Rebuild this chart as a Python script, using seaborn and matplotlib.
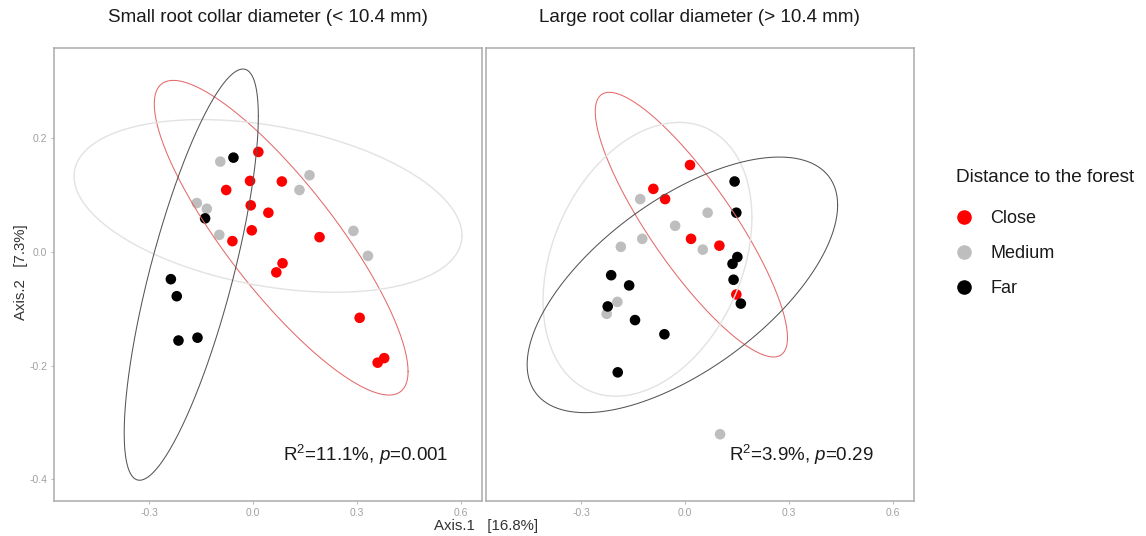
import numpy as np
import pandas as pd
import matplotlib
matplotlib.use("Agg")
import matplotlib.pyplot as plt
import seaborn as sns
from matplotlib.lines import Line2D

# ---------------- data ----------------
groups = ["Close", "Medium", "Far"]
point_colors = ["#FF0000", "#BEBEBE", "#000000"]
ellipse_colors = ["#E46A6A", "#E2E2E2", "#555555"]

panel_titles = ["Small root collar diameter (< 10.4 mm)",
                "Large root collar diameter (> 10.4 mm)"]
stat_labels = [r"R$^{2}$=11.1%, $\mathit{p}$=0.001", r"R$^{2}$=3.9%, $\mathit{p}$=0.29"]

x_ticks = [-0.3, 0.0, 0.3, 0.6]
y_ticks = [-0.4, -0.2, 0.0, 0.2]
x_label = "Axis.1   [16.8%]"
y_label = "Axis.2   [7.3%]"
legend_title = "Distance to the forest"

# Small root collar panel
small_close_x = [0.015, -0.009, 0.083, -0.078, -0.007, 0.044, -0.004, -0.060, 0.192, 0.085, 0.067, 0.308, 0.379, 0.360]
small_close_y = [0.176, 0.125, 0.124, 0.109, 0.082, 0.069, 0.038, 0.019, 0.026, -0.020, -0.036, -0.116, -0.187, -0.195]
small_medium_x = [-0.095, 0.163, 0.134, -0.163, -0.134, -0.098, 0.290, 0.332]
small_medium_y = [0.159, 0.135, 0.109, 0.086, 0.076, 0.030, 0.037, -0.007]
small_far_x = [-0.057, -0.139, -0.238, -0.221, -0.216, -0.161]
small_far_y = [0.166, 0.059, -0.048, -0.078, -0.156, -0.151]

# Large root collar panel
large_close_x = [0.014, -0.092, -0.058, 0.017, 0.099, 0.148]
large_close_y = [0.153, 0.111, 0.093, 0.023, 0.011, -0.075]
large_medium_x = [-0.130, 0.065, -0.029, -0.124, -0.186, 0.051, -0.196, -0.227, 0.101]
large_medium_y = [0.093, 0.069, 0.046, 0.023, 0.009, 0.004, -0.088, -0.109, -0.321]
large_far_x = [0.143, 0.148, 0.151, 0.137, 0.140, 0.161, -0.214, -0.162, -0.224, -0.145, -0.060, -0.195]
large_far_y = [0.124, 0.069, -0.009, -0.021, -0.049, -0.091, -0.041, -0.059, -0.096, -0.120, -0.145, -0.212]

# Ellipse parameters (order: Close, Medium, Far): centre, half-extent x/y, correlation
small_ell_cx = [0.081, 0.043, -0.179]
small_ell_cy = [0.025, 0.081, -0.040]
small_ell_hx = [0.367, 0.561, 0.194]
small_ell_hy = [0.277, 0.152, 0.362]
small_ell_r = [-0.85, -0.343, 0.77]

large_ell_cx = [0.018, -0.109, -0.008]
large_ell_cy = [0.048, -0.013, -0.058]
large_ell_hx = [0.278, 0.302, 0.449]
large_ell_hy = [0.233, 0.241, 0.225]
large_ell_r = [-0.854, 0.304, 0.624]


def make_df(cx, cy, mx, my, fx, fy):
    # row order: Medium, Close, Far (drawing order)
    return pd.DataFrame({
        "Axis.1": list(mx) + list(cx) + list(fx),
        "Axis.2": list(my) + list(cy) + list(fy),
        "Distance": ["Medium"] * len(mx) + ["Close"] * len(cx) + ["Far"] * len(fx),
    })


df_small = make_df(small_close_x, small_close_y, small_medium_x, small_medium_y, small_far_x, small_far_y)
df_large = make_df(large_close_x, large_close_y, large_medium_x, large_medium_y, large_far_x, large_far_y)

# ---------------- style ----------------
sns.set_theme(style="white")
plt.rcParams["font.family"] = ["Liberation Sans", "DejaVu Sans"]
plt.rcParams["axes.unicode_minus"] = False
plt.rcParams["mathtext.fontset"] = "custom"
plt.rcParams["mathtext.rm"] = "Liberation Sans"
plt.rcParams["mathtext.it"] = "Liberation Sans:italic"
plt.rcParams["mathtext.default"] = "regular"

W, H = 1146, 536
fig = plt.figure(figsize=(W / 100, H / 100), dpi=100)
ax1 = fig.add_axes([54 / W, 1 - 500.7 / H, 427.7 / W, 452.7 / H])
ax2 = fig.add_axes([486 / W, 1 - 500.7 / H, 427.7 / W, 452.7 / H])

palette = dict(zip(groups, point_colors))
xlim = (-0.576, 0.661)
ylim = (-0.438, 0.359)

panels = [
    (ax1, df_small, (small_ell_cx, small_ell_cy, small_ell_hx, small_ell_hy, small_ell_r)),
    (ax2, df_large, (large_ell_cx, large_ell_cy, large_ell_hx, large_ell_hy, large_ell_r)),
]

t = np.linspace(0, 2 * np.pi, 300)
for i, (ax, df, ell) in enumerate(panels):
    sns.scatterplot(data=df, x="Axis.1", y="Axis.2", hue="Distance", hue_order=groups,
                    palette=palette, s=58, linewidth=0, legend=False, ax=ax, zorder=2)
    cxs, cys, hxs, hys, rs = ell
    for g in range(3):
        cov = np.array([[hxs[g] ** 2, rs[g] * hxs[g] * hys[g]],
                        [rs[g] * hxs[g] * hys[g], hys[g] ** 2]])
        L = np.linalg.cholesky(cov)
        pts = L @ np.vstack([np.cos(t), np.sin(t)])
        ax.plot(cxs[g] + pts[0], cys[g] + pts[1], color=ellipse_colors[g],
                lw=[0.75, 1.0, 0.75][g], zorder=3)
    ax.set_xlim(*xlim)
    ax.set_ylim(*ylim)
    ax.set_xticks(x_ticks)
    ax.set_xticklabels([f"{v:.1f}" for v in x_ticks])
    ax.set_xlabel("")
    ax.set_ylabel("")
    for sp in ax.spines.values():
        sp.set_color("#ABABAB")
        sp.set_linewidth(1.1)
    ax.tick_params(axis="both", which="both", length=2.5, width=0.6, color="#ABABAB",
                   labelsize=7.5, labelcolor="#A0A0A0", pad=2.5, bottom=True, left=True)
    ax.text(0.5, 1 + 31 / 452.7, panel_titles[i], transform=ax.transAxes,
            ha="center", va="center", fontsize=13.6, color="#1A1A1A")
    ax.text(0.535 if i == 0 else 0.567, 0.10, stat_labels[i], transform=ax.transAxes,
            ha="left", va="center", fontsize=13.5, color="#1A1A1A")

ax1.set_yticks(y_ticks)
ax1.set_yticklabels([f"{v:.1f}" for v in y_ticks])
ax2.set_yticks([])
ax2.tick_params(axis="y", left=False, labelleft=False)

fig.text(486.5 / W, 1 - 526 / H, x_label, ha="center", va="center", fontsize=10.8, color="#333333")
fig.text(21 / W, 1 - 272 / H, y_label, ha="center", va="center", rotation=90,
         fontsize=10.8, color="#333333")

# legend: title as text, entries as legend
fig.text(956.5 / W, 1 - 177 / H, legend_title, ha="left", va="center",
         fontsize=13.7, color="#1A1A1A")
handles = [Line2D([0], [0], marker="o", linestyle="", markersize=10.5, markeredgewidth=0,
                  color=c) for c in point_colors]
leg = fig.legend(handles, groups, loc="upper left",
                 bbox_to_anchor=(956 / W, 1 - 210 / H), frameon=False,
                 fontsize=13, borderpad=0, borderaxespad=0,
                 handlelength=0.9, handletextpad=1.0, labelspacing=1.0)
for txt in leg.get_texts():
    txt.set_color("#1A1A1A")

fig.savefig("out.png", dpi=100)
